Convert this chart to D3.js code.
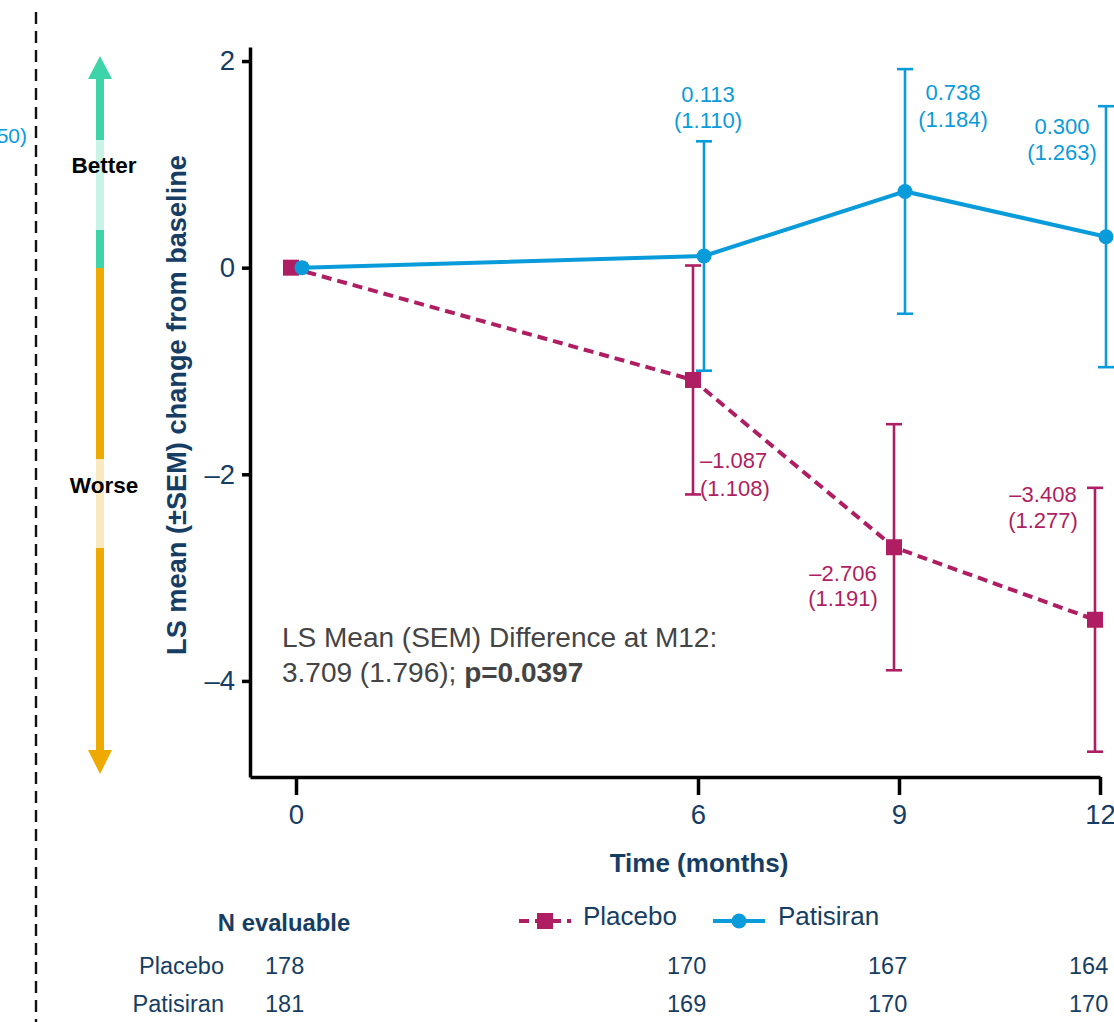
<!DOCTYPE html>
<html>
<head>
<meta charset="utf-8">
<script src="https://cdn.jsdelivr.net/npm/d3@7"></script>
<style>
  html, body { margin: 0; padding: 0; background: #fff; }
  svg { display: block; font-family: "Liberation Sans", Arial, Helvetica, sans-serif; }
</style>
</head>
<body>
<svg id="chart" width="1114" height="1022"></svg>
<script>
// ---- data ----
const months = [0, 6, 9, 12];
const placeboMean = [0, -1.087, -2.706, -3.408];
const placeboSEM = [null, 1.108, 1.191, 1.277];
const patisiranMean = [0, 0.113, 0.738, 0.300];
const patisiranSEM = [null, 1.110, 1.184, 1.263];
const placeboN = [178, 170, 167, 164];
const patisiranN = [181, 169, 170, 170];
const xTickValues = [0, 6, 9, 12];
const yTickValues = [-4, -2, 0, 2];
const seriesNames = ["Placebo", "Patisiran"];

// ---- style ----
const NAVY = "#163D63";
const BLUE = "#0A9BDA";
const MAG = "#AF1E62";
const GRAY = "#444444";

const svg = d3.select("#chart");
svg.append("rect").attr("width", 1114).attr("height", 1022).attr("fill", "#fff");

const x = d3.scaleLinear().domain([-0.6866, 12]).range([250, 1100]);
const y = d3.scaleLinear().domain([-4.93, 2.136]).range([777, 47]);

const fmtMean = v => (v < 0 ? "\u2013" : "") + Math.abs(v).toFixed(3);
const fmtSem = v => "(" + v.toFixed(3) + ")";

// left dashed separator & cut-off text from previous panel
svg.append("line").attr("x1", 36).attr("x2", 36).attr("y1", 12).attr("y2", 1022)
  .attr("stroke", "#111").attr("stroke-width", 2.4).attr("stroke-dasharray", "12,7");
svg.append("text").attr("x", 27).attr("y", 143).attr("text-anchor", "end")
  .attr("font-size", 21).attr("fill", BLUE).text("50)");

// better / worse arrow
const ax = 100;
const GREEN = "#3DD4AA", LGREEN = "#C9F3E6", ORANGE = "#EEAA00", LORANGE = "#FAE9BF";
svg.append("rect").attr("x", ax - 4).attr("y", 76).attr("width", 8).attr("height", 192).attr("fill", GREEN);
svg.append("rect").attr("x", ax - 4).attr("y", 140).attr("width", 8).attr("height", 90).attr("fill", LGREEN);
svg.append("polygon").attr("points", `${ax},56 ${ax - 12},79 ${ax + 12},79`).attr("fill", GREEN);
svg.append("rect").attr("x", ax - 4).attr("y", 268).attr("width", 8).attr("height", 484).attr("fill", ORANGE);
svg.append("rect").attr("x", ax - 4).attr("y", 459).attr("width", 8).attr("height", 89).attr("fill", LORANGE);
svg.append("polygon").attr("points", `${ax},774 ${ax - 12},750 ${ax + 12},750`).attr("fill", ORANGE);
svg.append("text").attr("x", 104).attr("y", 173).attr("text-anchor", "middle")
  .attr("font-size", 22.5).attr("font-weight", "bold").attr("fill", "#000").text("Better");
svg.append("text").attr("x", 104).attr("y", 493).attr("text-anchor", "middle")
  .attr("font-size", 22.5).attr("font-weight", "bold").attr("fill", "#000").text("Worse");

// axes
const yAxis = d3.axisLeft(y).tickValues(yTickValues).tickSize(8).tickSizeOuter(0).tickPadding(7)
  .tickFormat(d => (d < 0 ? "\u2013" : "") + Math.abs(d));
const gy = svg.append("g").attr("transform", "translate(250,0)").call(yAxis);
const xAxis = d3.axisBottom(x).tickValues(xTickValues).tickSize(18).tickSizeOuter(0).tickPadding(9);
const gx = svg.append("g").attr("transform", "translate(0,777)").call(xAxis);
[gx, gy].forEach(g => {
  g.select(".domain").attr("stroke", "#000").attr("stroke-width", 3.5);
  g.selectAll(".tick line").attr("stroke", "#000").attr("stroke-width", 3.5);
  g.selectAll(".tick text").attr("fill", NAVY).attr("font-size", 27.5)
    .attr("font-family", "Liberation Sans, Arial, sans-serif");
});

// axis titles
svg.append("text").attr("transform", "translate(186,405) rotate(-90)").attr("text-anchor", "middle")
  .attr("font-size", 27.2).attr("font-weight", "bold").attr("fill", NAVY)
  .text("LS mean (\u00B1SEM) change from baseline");
svg.append("text").attr("x", 699).attr("y", 872).attr("text-anchor", "middle")
  .attr("font-size", 26).attr("font-weight", "bold").attr("fill", NAVY).text("Time (months)");

// series
const series = [
  { name: "Placebo", mean: placeboMean, sem: placeboSEM, color: MAG, dodge: -5, dash: "10,6", marker: "square",
    labels: [null, { a: "start", dx: 7, dy: 88, gap: 28 }, { a: "middle", dx: -51, dy: 34, gap: 25 }, { a: "middle", dx: -52, dy: -118, gap: 26 }] },
  { name: "Patisiran", mean: patisiranMean, sem: patisiranSEM, color: BLUE, dodge: 6, dash: null, marker: "circle",
    labels: [null, { a: "middle", dx: 4, dy: -154, gap: 26 }, { a: "middle", dx: 48, dy: -91, gap: 27 }, { a: "middle", dx: -44, dy: -103, gap: 26 }] }
];

series.forEach(s => {
  const pts = months.map((m, i) => ({ m, v: s.mean[i], e: s.sem[i], lab: s.labels[i], px: x(m) + s.dodge, py: y(s.mean[i]) }));
  const g = svg.append("g");
  // error bars
  pts.filter(p => p.e != null).forEach(p => {
    const top = y(p.v + p.e), bot = y(p.v - p.e);
    g.append("line").attr("x1", p.px).attr("x2", p.px).attr("y1", top).attr("y2", bot)
      .attr("stroke", s.color).attr("stroke-width", 2.6);
    [top, bot].forEach(yy => g.append("line").attr("x1", p.px - 8).attr("x2", p.px + 8).attr("y1", yy).attr("y2", yy)
      .attr("stroke", s.color).attr("stroke-width", 2.6));
  });
  // line
  const line = d3.line().x(p => p.px).y(p => p.py);
  g.append("path").datum(pts).attr("d", line).attr("fill", "none").attr("stroke", s.color)
    .attr("stroke-width", 4).attr("stroke-dasharray", s.dash);
  // markers
  if (s.marker === "square") {
    g.selectAll("rect.mk").data(pts).join("rect").attr("class", "mk")
      .attr("x", p => p.px - 8).attr("y", p => p.py - 8).attr("width", 16).attr("height", 16).attr("fill", s.color);
  } else {
    g.selectAll("circle.mk").data(pts).join("circle").attr("class", "mk")
      .attr("cx", p => p.px).attr("cy", p => p.py).attr("r", 7.5).attr("fill", s.color);
  }
  // value labels
  pts.filter(p => p.lab).forEach(p => {
    const t = g.append("text").attr("text-anchor", p.lab.a).attr("font-size", 22).attr("fill", s.color);
    t.append("tspan").attr("x", p.px + p.lab.dx).attr("y", p.py + p.lab.dy).text(fmtMean(p.v));
    t.append("tspan").attr("x", p.px + p.lab.dx).attr("y", p.py + p.lab.dy + p.lab.gap).text(fmtSem(p.e));
  });
});

// annotation
svg.append("text").attr("x", 282).attr("y", 647).attr("font-size", 28).attr("fill", GRAY)
  .text("LS Mean (SEM) Difference at M12:");
const ann2 = svg.append("text").attr("x", 282).attr("y", 682).attr("font-size", 28).attr("fill", GRAY);
ann2.append("tspan").text("3.709 (1.796); ");
ann2.append("tspan").attr("font-weight", "bold").text("p=0.0397");

// legend
const lg = svg.append("g");
lg.append("line").attr("x1", 519).attr("x2", 571).attr("y1", 921).attr("y2", 921)
  .attr("stroke", MAG).attr("stroke-width", 4).attr("stroke-dasharray", "10,6");
lg.append("rect").attr("x", 537).attr("y", 913).attr("width", 16).attr("height", 16).attr("fill", MAG);
lg.append("text").attr("x", 583).attr("y", 925).attr("font-size", 26).attr("fill", NAVY).text(seriesNames[0]);
lg.append("line").attr("x1", 713).attr("x2", 765).attr("y1", 921).attr("y2", 921)
  .attr("stroke", BLUE).attr("stroke-width", 4);
lg.append("circle").attr("cx", 739).attr("cy", 921).attr("r", 7.5).attr("fill", BLUE);
lg.append("text").attr("x", 778).attr("y", 925).attr("font-size", 26).attr("fill", NAVY).text(seriesNames[1]);

// N evaluable table
svg.append("text").attr("x", 284).attr("y", 931).attr("text-anchor", "middle").attr("font-size", 23.8)
  .attr("font-weight", "bold").attr("fill", NAVY).text("N evaluable");
[[seriesNames[0], placeboN, 974], [seriesNames[1], patisiranN, 1012]].forEach(([name, ns, yy]) => {
  svg.append("text").attr("x", 224).attr("y", yy).attr("text-anchor", "end").attr("font-size", 23.5)
    .attr("fill", NAVY).text(name);
  svg.selectAll(null).data(months).join("text")
    .attr("x", (m) => x(m) - 31).attr("y", yy).attr("font-size", 23.5).attr("fill", NAVY)
    .text((m, i) => ns[i]);
});
</script>
</body>
</html>
